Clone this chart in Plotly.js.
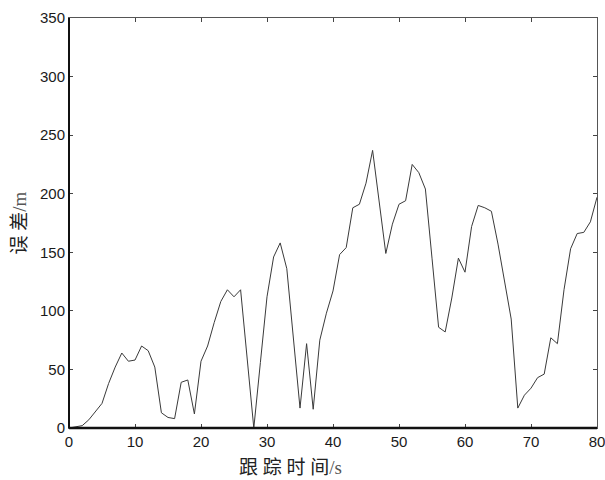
<!DOCTYPE html>
<html>
<head>
<meta charset="utf-8">
<script src="https://cdn.plot.ly/plotly-3.0.1.min.js"></script>
<style>html,body{margin:0;padding:0;background:#fff;}#chart{width:605px;height:480px;}</style>
</head>
<body>
<div id="chart"></div>
<script>
const timeSec = [0,1,2,3,4,5,6,7,8,9,10,11,12,13,14,15,16,17,18,19,20,21,22,23,24,25,26,27,28,29,30,31,32,33,34,35,36,37,38,39,40,41,42,43,44,45,46,47,48,49,50,51,52,53,54,55,56,57,58,59,60,61,62,63,64,65,66,67,68,69,70,71,72,73,74,75,76,77,78,79,80];
const errorM = [0,1,2,7,14,21,38,52,64,57,58,70,66,52,13,9,8,39,41,12,57,70,90,108,118,112,118,59,0,56,112,146,158,136,78,17,72,16,75,98,117,148,154,188,191,209,237,193,149,174,191,194,225,218,204,145,86,82,111,145,133,172,190,188,185,157,125,93,17,28,34,43,46,77,72,118,153,166,167,176,197];
const xTicks = [0,10,20,30,40,50,60,70,80];
const yTicks = [0,50,100,150,200,250,300,350];
const xTitle = '跟\u2005踪\u2005时\u2005间<span style="font-family:Liberation Serif;fill:#555">/s</span>';
const yTitle = '误\u2005差<span style="font-family:Liberation Serif;fill:#555">/m</span>';

const tickFont = {family: 'Liberation Sans, Arial, sans-serif', size: 15, color: '#1a1a1a'};
const titleFont = {family: 'Noto Sans CJK SC, sans-serif', size: 19, color: '#222'};

const trace = {
  x: timeSec, y: errorM, type: 'scatter', mode: 'lines',
  line: {color: '#3a3a3a', width: 1}, hoverinfo: 'x+y'
};

const layout = {
  width: 605, height: 480,
  margin: {l: 69, r: 8, t: 18, b: 52},
  paper_bgcolor: '#fff', plot_bgcolor: '#fff',
  showlegend: false,
  xaxis: {
    range: [0, 80], tickvals: xTicks, ticktext: xTicks.map(String),
    ticks: 'inside', ticklen: 4, tickcolor: '#444', tickwidth: 1,
    showline: true, mirror: 'ticks', linecolor: '#555', linewidth: 1,
    showgrid: false, zeroline: false, tickfont: tickFont,
    ticklabeloverflow: 'allow'
  },
  yaxis: {
    range: [0, 350], tickvals: yTicks, ticktext: yTicks.map(String),
    ticks: 'inside', ticklen: 4, tickcolor: '#444', tickwidth: 1,
    showline: true, mirror: 'ticks', linecolor: '#555', linewidth: 1,
    showgrid: false, zeroline: false, tickfont: tickFont,
    ticklabeloverflow: 'allow',
    title: {text: yTitle, font: titleFont, standoff: 8}
  },
  annotations: [
    {text: xTitle, xref: 'paper', yref: 'paper', x: 0.419, y: -0.092,
     xanchor: 'center', yanchor: 'middle', showarrow: false, font: titleFont}
  ],
  shapes: [
    {type: 'line', xref: 'paper', yref: 'paper', x0: 0, x1: 1, y0: 0, y1: 0, line: {color: '#111', width: 2.5}},
    {type: 'line', xref: 'paper', yref: 'paper', x0: 0, x1: 0, y0: 0, y1: 1, line: {color: '#111', width: 2}}
  ]
};

Plotly.newPlot('chart', [trace], layout, {displayModeBar: false, staticPlot: true});
</script>
</body>
</html>
